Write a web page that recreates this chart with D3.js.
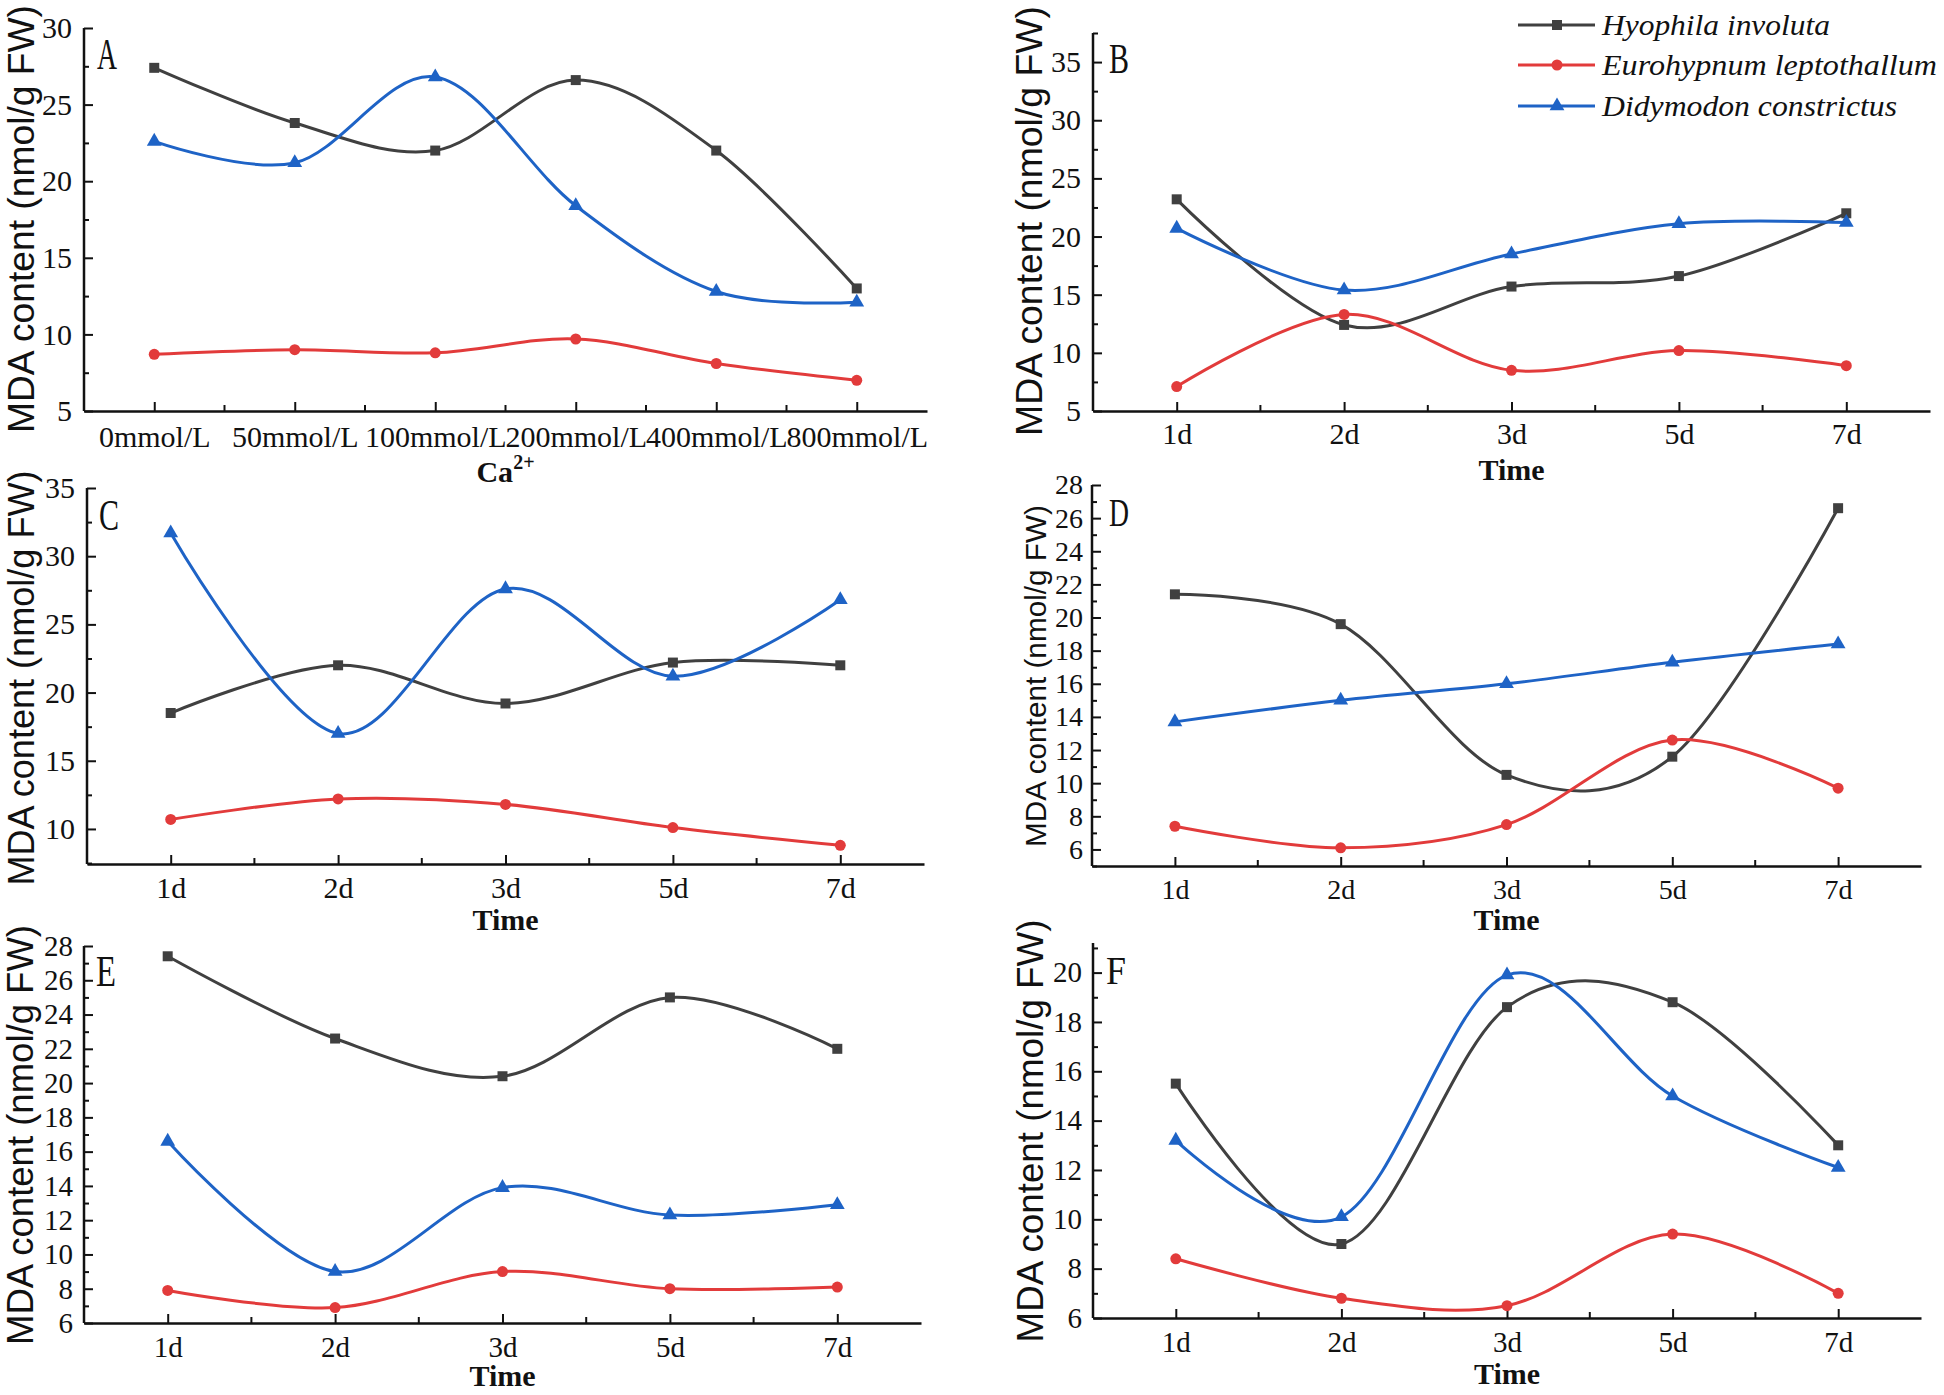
<!DOCTYPE html>
<html><head><meta charset="utf-8">
<script src="https://cdn.jsdelivr.net/npm/d3@7"></script>
<style>body{margin:0;background:#fff} svg{display:block}</style>
</head><body>
<svg id="chart" width="1944" height="1395"></svg>
<script>
// ---------- data ----------
const seriesNames = ["Hyophila involuta", "Eurohypnum leptothallum", "Didymodon constrictus"];
const catsCa = ["0mmol/L", "50mmol/L", "100mmol/L", "200mmol/L", "400mmol/L", "800mmol/L"];
const catsTime = ["1d", "2d", "3d", "5d", "7d"];

const hyoA  = [27.4, 23.8, 22.0, 26.6, 22.0, 13.0];
const euroA = [8.7, 9.0, 8.8, 9.7, 8.1, 7.0];
const didyA = [22.6, 21.2, 26.8, 18.4, 12.8, 12.1];

const hyoB  = [23.2, 12.4, 15.7, 16.6, 22.0];
const euroB = [7.1, 13.3, 8.5, 10.2, 8.9];
const didyB = [20.7, 15.4, 18.5, 21.1, 21.2];

const hyoC  = [18.5, 22.0, 19.2, 22.2, 22.0];
const euroC = [10.7, 12.2, 11.8, 10.1, 8.8];
const didyC = [31.7, 17.0, 27.6, 21.2, 26.8];

const hyoD  = [21.4, 19.6, 10.5, 11.6, 26.6];
const euroD = [7.4, 6.1, 7.5, 12.6, 9.7];
const didyD = [13.7, 15.0, 16.0, 17.3, 18.4];

const hyoE  = [27.4, 22.6, 20.4, 25.0, 22.0];
const euroE = [7.9, 6.9, 9.0, 8.0, 8.1];
const didyE = [16.6, 9.0, 13.9, 12.3, 12.9];

const hyoF  = [15.5, 9.0, 18.6, 18.8, 13.0];
const euroF = [8.4, 6.8, 6.5, 9.4, 7.0];
const didyF = [13.2, 10.1, 19.9, 15.0, 12.1];

// ---------- style ----------
const colors = ["#404040", "#e23b3b", "#1e63c6"];
const symbols = [d3.symbolSquare, d3.symbolCircle, d3.symbolTriangle];
const symSizes = [100, 95, 95];
const serif = "'Liberation Serif', 'Times New Roman', serif";
const sans = "'Liberation Sans', Arial, sans-serif";

const panels = [
  {label:"A", cats:catsCa, data:[hyoA, euroA, didyA], x0:84, x1:927, yTop:28, yBot:411, yDom:[5,30],
   major:[5,10,15,20,25,30], minor:[7.5,12.5,17.5,22.5,27.5], xTitle:"Ca", sup:"2+", xTitleY:482, xPad:15,
   tickFs:30, yPad:12, titleX:34, titleY:219, titleFs:36, titleLen:428, lx:97, ly:69, lfs:44},
  {label:"B", cats:catsTime, data:[hyoB, euroB, didyB], x0:1093, x1:1930, yTop:33, yBot:411, yDom:[5,37.5],
   major:[5,10,15,20,25,30,35], minor:[7.5,12.5,17.5,22.5,27.5,32.5,37.5], xTitle:"Time", xTitleY:480, xPad:12,
   tickFs:30, yPad:12, titleX:1042, titleY:221, titleFs:36, titleLen:430, lx:1109, ly:73, lfs:42},
  {label:"C", cats:catsTime, data:[hyoC, euroC, didyC], x0:87, x1:924, yTop:488, yBot:864, yDom:[7.43,35],
   major:[10,15,20,25,30,35], minor:[7.5,12.5,17.5,22.5,27.5,32.5], xTitle:"Time", xTitleY:930, xPad:13,
   tickFs:30, yPad:12, titleX:34, titleY:678, titleFs:36, titleLen:415, lx:99, ly:530, lfs:44},
  {label:"D", cats:catsTime, data:[hyoD, euroD, didyD], x0:1092, x1:1921, yTop:485, yBot:866, yDom:[5,28],
   major:[6,8,10,12,14,16,18,20,22,24,26,28], minor:[5,7,9,11,13,15,17,19,21,23,25,27], xTitle:"Time", xTitleY:930, xPad:13,
   tickFs:28, yPad:9, titleX:1046, titleY:676, titleFs:30, titleLen:342, lx:1109, ly:526, lfs:40},
  {label:"E", cats:catsTime, data:[hyoE, euroE, didyE], x0:84, x1:921, yTop:946, yBot:1323, yDom:[6,28],
   major:[6,8,10,12,14,16,18,20,22,24,26,28], minor:[7,9,11,13,15,17,19,21,23,25,27], xTitle:"Time", xTitleY:1386, xPad:13,
   tickFs:29, yPad:11, titleX:33, titleY:1135, titleFs:36, titleLen:420, lx:96, ly:986, lfs:44},
  {label:"F", cats:catsTime, data:[hyoF, euroF, didyF], x0:1093, x1:1921, yTop:943, yBot:1318, yDom:[6,21.2],
   major:[6,8,10,12,14,16,18,20], minor:[7,9,11,13,15,17,19,21], xTitle:"Time", xTitleY:1384, xPad:13,
   tickFs:29, yPad:11, titleX:1043, titleY:1131, titleFs:36, titleLen:423, lx:1106, ly:984, lfs:40}
];

const svg = d3.select("#chart");

panels.forEach(p => {
  const g = svg.append("g");
  const x = d3.scalePoint().domain(p.cats).range([p.x0, p.x1]).padding(0.5);
  const y = d3.scaleLinear().domain(p.yDom).range([p.yBot, p.yTop]);

  // x axis
  const xa = g.append("g").attr("transform", `translate(0,${p.yBot})`)
    .call(d3.axisBottom(x).tickSize(-9).tickSizeOuter(0).tickPadding(p.xPad));
  // minor x ticks at midpoints
  const mids = [];
  for (let i = 0; i < p.cats.length - 1; i++) mids.push((x(p.cats[i]) + x(p.cats[i + 1])) / 2);
  xa.selectAll("line.minor").data(mids).enter().append("line").attr("class", "minor")
    .attr("x1", d => d).attr("x2", d => d).attr("y1", 0).attr("y2", -6);

  // y axis
  const ya = g.append("g").attr("transform", `translate(${p.x0},0)`)
    .call(d3.axisLeft(y).tickValues(p.major).tickSize(-9).tickSizeOuter(0).tickPadding(p.yPad).tickFormat(d3.format("d")));
  const ym = g.append("g").attr("transform", `translate(${p.x0},0)`)
    .call(d3.axisLeft(y).tickValues(p.minor.filter(v => v >= p.yDom[0] && v <= p.yDom[1])).tickSize(-5).tickFormat(""));
  ym.select(".domain").remove();

  [xa, ya, ym].forEach(a => {
    a.selectAll(".domain").attr("stroke", "#111").attr("stroke-width", 2.5);
    a.selectAll("line").attr("stroke", "#111").attr("stroke-width", 2);
    a.selectAll("text").attr("font-family", serif).attr("font-size", p.tickFs).attr("fill", "#111");
  });
  ya.select(".domain").attr("d", `M0,${p.yBot}V${p.yTop}`);

  // x title
  const xt = g.append("text").attr("x", (p.x0 + p.x1) / 2).attr("y", p.xTitleY)
    .attr("text-anchor", "middle").attr("font-family", serif).attr("font-weight", "bold")
    .attr("font-size", 30).attr("fill", "#111");
  xt.append("tspan").text(p.xTitle);
  if (p.sup) xt.append("tspan").attr("dy", -13).attr("font-size", 20).text(p.sup);

  // y title
  g.append("text").attr("transform", `translate(${p.titleX},${p.titleY}) rotate(-90)`)
    .attr("text-anchor", "middle").attr("font-family", sans).attr("font-size", p.titleFs)
    .attr("textLength", p.titleLen).attr("lengthAdjust", "spacingAndGlyphs")
    .attr("fill", "#111").text("MDA content (nmol/g FW)");

  // panel letter
  g.append("text").attr("x", p.lx).attr("y", p.ly).attr("font-family", serif).attr("font-size", p.lfs)
    .attr("textLength", 20).attr("lengthAdjust", "spacingAndGlyphs").attr("fill", "#111").text(p.label);

  // series (uniform Catmull-Rom style spline through the points)
  const line = d3.line().x((d, i) => x(p.cats[i])).y(d => y(d)).curve(d3.curveCardinal.tension(0));
  p.data.forEach((vals, si) => {
    g.append("path").datum(vals).attr("d", line).attr("fill", "none")
      .attr("stroke", colors[si]).attr("stroke-width", 3);
    g.selectAll(null).data(vals).enter().append("path")
      .attr("transform", (d, i) => `translate(${x(p.cats[i])},${y(d)})`)
      .attr("d", d3.symbol().type(symbols[si]).size(symSizes[si]))
      .attr("fill", colors[si]);
  });
});

// legend (in panel B)
const legY = [25, 65, 106];
const legLen = [228, 335, 295];
const lg = svg.append("g");
seriesNames.forEach((name, i) => {
  lg.append("line").attr("x1", 1518).attr("x2", 1595).attr("y1", legY[i]).attr("y2", legY[i])
    .attr("stroke", colors[i]).attr("stroke-width", 3);
  lg.append("path").attr("transform", `translate(1557,${legY[i]})`)
    .attr("d", d3.symbol().type(symbols[i]).size(symSizes[i])).attr("fill", colors[i]);
  lg.append("text").attr("x", 1602).attr("y", legY[i] + 10).attr("font-family", serif)
    .attr("font-style", "italic").attr("font-size", 30).attr("textLength", legLen[i])
    .attr("lengthAdjust", "spacingAndGlyphs").attr("fill", "#111").text(name);
});
</script>
</body></html>
